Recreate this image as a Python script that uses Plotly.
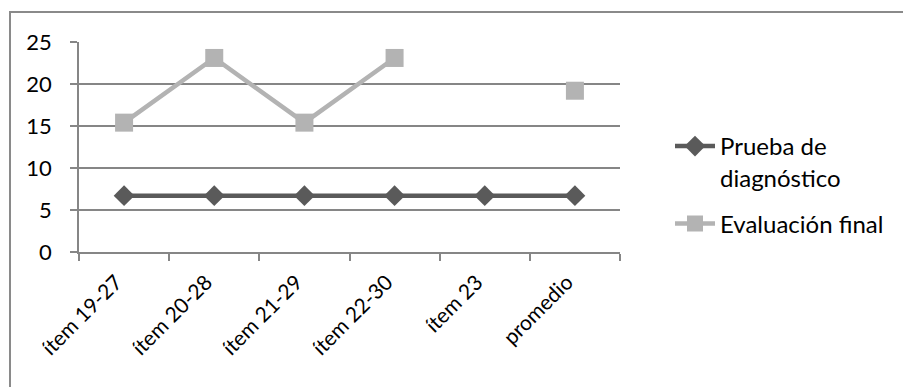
import plotly.graph_objects as go

# Categories and series values
categorias = ["ítem 19-27", "ítem 20-28", "ítem 21-29", "ítem 22-30", "ítem 23", "promedio"]
prueba_diagnostico = [6.7, 6.7, 6.7, 6.7, 6.7, 6.7]
evaluacion_final = [15.4, 23.1, 15.4, 23.1, None, 19.2]
y_ticks = [0, 5, 10, 15, 20, 25]

FONT = "Lato"
W, H = 903, 387
L, R, T, B = 79, 283, 42, 135
plot_w = W - L - R
plot_h = H - T - B


def px_to_paper(px, py):
    return (px - L) / plot_w, (H - B - py) / plot_h


fig = go.Figure()
fig.add_trace(go.Scatter(
    x=categorias, y=prueba_diagnostico, name="Prueba de<br>diagnóstico",
    legendgroup="a", mode="lines+markers",
    line=dict(color="#5a5a5a", width=4.5),
    marker=dict(symbol="diamond", size=16, color="#5a5a5a"),
))
fig.add_trace(go.Scatter(
    x=categorias, y=evaluacion_final, name="Evaluación final",
    legendgroup="b", mode="lines+markers", connectgaps=False,
    line=dict(color="#b3b3b3", width=4.5),
    marker=dict(symbol="square", size=18, color="#b3b3b3"),
))

# Outer chart-area border
x0, y0 = px_to_paper(10, 12)
x1, y1 = px_to_paper(915, 400)
fig.add_shape(type="rect", xref="paper", yref="paper", x0=x0, y0=y1, x1=x1, y1=y0,
              line=dict(color="#8a8a8a", width=2), layer="below")

lx, ly = px_to_paper(670, 124)
fig.update_layout(
    width=W, height=H,
    margin=dict(l=L, r=R, t=T, b=B, pad=0),
    paper_bgcolor="white", plot_bgcolor="white",
    font=dict(family=FONT, size=20, color="#000000"),
    showlegend=True,
    legend=dict(x=lx, y=ly, xanchor="left", yanchor="top", valign="top",
                font=dict(family=FONT, size=24), bgcolor="rgba(0,0,0,0)",
                itemwidth=40, tracegroupgap=12),
    xaxis=dict(
        type="category", tickangle=-45, tickson="boundaries",
        ticks="outside", ticklen=7, tickcolor="#868686", tickwidth=1.5,
        showline=True, linecolor="#868686", linewidth=1.5,
        showgrid=False, tickfont=dict(family=FONT, size=21),
        ticklabelstandoff=8, ticklabelshift=-8,
        range=[-0.5, 5.5],
    ),
    yaxis=dict(
        range=[0, 25], tickvals=y_ticks, ticktext=[str(v) for v in y_ticks],
        ticks="outside", ticklen=7, tickcolor="#868686", tickwidth=1.5,
        showline=True, linecolor="#868686", linewidth=1.5,
        showgrid=True, gridcolor="#868686", gridwidth=1.5,
        zeroline=False, tickfont=dict(family=FONT, size=22),
        ticklabelstandoff=14,
    ),
)

fig.write_html("out.html")
